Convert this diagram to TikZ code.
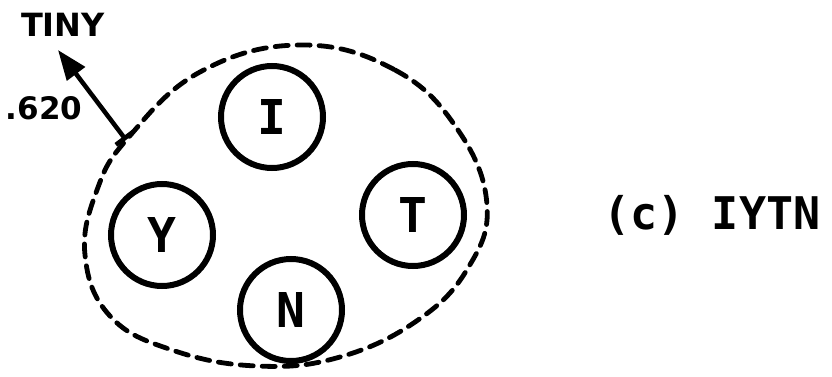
\documentclass[tikz,border=0pt]{standalone}
\usepackage{fontspec}
\setmainfont{DejaVu Sans}
\newfontfamily\monob{DejaVu Sans Mono}[BoldFont={* Bold}]
\usetikzlibrary{arrows.meta}
\begin{document}
\begin{tikzpicture}[x=1pt,y=-1pt,
  letter/.style={circle,draw,line width=6pt,minimum size=102pt,inner sep=0pt,font=\monob\bfseries\fontsize{48}{48}\selectfont},
  lbl/.style={inner sep=0pt,font=\bfseries\fontsize{32}{32}\selectfont},
  outline/.style={line width=4.8pt,dash pattern=on 13pt off 9pt,line cap=round}]
\useasboundingbox (0,0) rectangle (832,377);
\node[letter] (I) at (272,117) {I};
\node[letter] (Y) at (162,235) {Y};
\node[letter] (T) at (413,215) {T};
\node[letter] (N) at (291,310) {N};
\draw[outline] plot[smooth cycle,tension=0.7] coordinates {
 (300,45) (395,70) (458,130) (487,205) (468,268) (418,320) (340,357)
 (257,366) (172,350) (110,316) (85,255) (97,190) (128,138) (200,72)};
\coordinate (base) at (126,140);
\coordinate (tip) at (58,50);
\draw[line width=4.5pt,{Bar[width=22pt,line width=4.5pt]}-{Triangle[length=30pt,width=22pt]}] (base) -- (tip);
\node[lbl] (tiny) at (63,25) {TINY};
\node[lbl,font=\bfseries\fontsize{31}{31}\selectfont] (val) at (44,108) {.620};
\node[inner sep=0pt,font=\monob\bfseries\fontsize{45}{45}\selectfont] (cap) at (712,215) {(c) IYTN};
\end{tikzpicture}
\end{document}
